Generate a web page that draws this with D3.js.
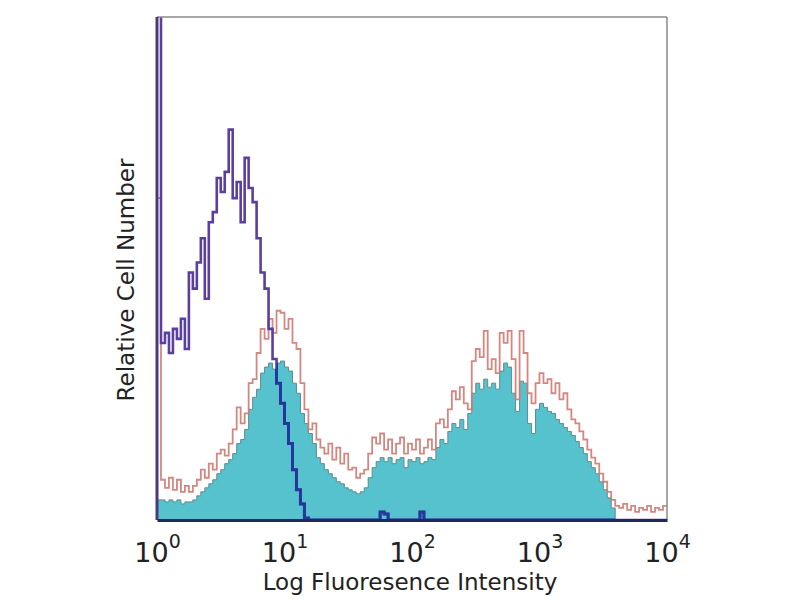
<!DOCTYPE html>
<html>
<head>
<meta charset="UTF-8">
<title>Flow histogram</title>
<script src="https://d3js.org/d3.v7.min.js"></script>
<style>
  body { margin: 0; background: #fff; }
  text { font-family: "DejaVu Sans", sans-serif; fill: #222; }
</style>
</head>
<body>
<svg class="chart"></svg>
<script>
// histogram bins: 32 bins per decade, 10^0 .. 10^4
const binsPerDecade = 32;
const decades = [0, 1, 2, 3, 4];

// isotype control (purple line)
const isotype = [300,88,93,83,95,90,100,85,123,115,128,140,110,148,153,170,163,173,194,160,
  168,148,180,165,158,140,123,115,95,80,68,58,48,38,25,15,8,1,0,0,
  0,0,0,0,0,0,0,0,0,0,0,0,0,0,0,0,4,3,0,0,
  0,0,0,0,0,0,4,0,0,0,0,0,0,0,0,0,0,0,0,0,
  0,0,0,0,0,0,0,0,0,0,0,0,0,0,0,0,0,0,0,0,
  0,0,0,0,0,0,0,0,0,0,0,0,0,0,0,0,0,0,0,0,
  0,0,0,0,0,0,0,0];

// stained sample, outline (red line)
const stainedLine = [160,20,16,21,15,20,14,17,14,17,20,25,21,28,25,33,35,32,38,45,
  56,48,53,68,70,83,95,90,100,93,104,103,95,100,88,85,68,55,45,48,
  40,36,33,38,30,36,28,33,25,26,21,23,25,33,41,38,43,35,40,33,
  38,41,33,38,35,40,33,36,40,35,48,50,46,55,64,60,66,58,55,79,
  85,81,94,75,80,73,93,88,94,80,60,94,83,63,58,68,73,68,70,63,
  68,60,63,55,50,48,44,40,35,31,28,23,19,14,10,7,6,8,5,7,
  4,6,5,7,4,6,5,7];

// stained sample, filled
const stainedFill = [10,10,9,10,9,10,8,9,9,10,12,14,16,18,20,23,25,28,30,33,
  38,40,45,55,61,65,73,76,78,75,78,79,76,74,68,63,53,48,43,38,
  31,28,25,23,21,19,18,16,15,14,13,14,16,21,26,29,31,29,31,28,
  30,31,26,30,29,31,28,29,31,30,36,40,38,44,48,46,50,45,53,63,
  68,65,70,66,68,65,74,78,76,63,54,69,68,48,43,55,58,56,54,53,
  50,48,46,44,42,39,36,33,29,26,23,19,15,11,6,0,0,0,0,0,
  0,0,0,0,0,0,0,0];

const svg = d3.select(".chart").attr("width", 800).attr("height", 600);

const plotLeft = 157, plotRight = 667, plotTop = 17, plotBottom = 520;

const x = d3.scaleLog().domain([1, 1e4]).range([plotLeft, plotRight]);
const y = d3.scaleLinear().domain([0, 250]).range([plotBottom, plotTop]);

function toSteps(values) {
  const pts = values.map((v, i) => ({ e: Math.pow(10, i / binsPerDecade), v: v }));
  pts.push({ e: 1e4, v: values[values.length - 1] });
  return pts;
}

svg.append("clipPath").attr("id", "plot")
  .append("rect").attr("x", plotLeft).attr("y", plotTop)
  .attr("width", plotRight - plotLeft).attr("height", plotBottom - plotTop);

const line = d3.line().curve(d3.curveStepAfter)
  .x(d => x(d.e)).y(d => y(d.v));
const area = d3.area().curve(d3.curveStepAfter)
  .x(d => x(d.e)).y0(y(0)).y1(d => y(d.v));

const plot = svg.append("g").attr("clip-path", "url(#plot)");

// filled stained histogram
const fillPath = area(toSteps(stainedFill));
plot.append("path").attr("d", fillPath)
  .attr("fill", "#55c2cd").attr("stroke", "#5d8d90").attr("stroke-width", 1);

svg.append("clipPath").attr("id", "fillclip")
  .append("path").attr("d", fillPath);

// stained outline
plot.append("path").attr("d", line(toSteps(stainedLine)))
  .attr("fill", "none").attr("stroke", "#cf7a72").attr("stroke-width", 1.8)
  .attr("opacity", 0.9);

// isotype line
plot.append("path").attr("d", line(toSteps(isotype)))
  .attr("fill", "none").attr("stroke", "#5b3f9e").attr("stroke-width", 2.6);
plot.append("g").attr("clip-path", "url(#fillclip)")
  .append("path").attr("d", line(toSteps(isotype)))
  .attr("fill", "none").attr("stroke", "#23389a").attr("stroke-width", 3);

// frame
svg.append("line").attr("x1", plotLeft).attr("x2", plotRight).attr("y1", plotTop).attr("y2", plotTop)
  .attr("stroke", "#8a8a8a").attr("stroke-width", 1.5);
svg.append("line").attr("x1", plotRight).attr("x2", plotRight).attr("y1", plotTop).attr("y2", plotBottom)
  .attr("stroke", "#8a8a8a").attr("stroke-width", 1.5);
svg.append("line").attr("x1", plotLeft).attr("x2", plotLeft).attr("y1", plotTop).attr("y2", plotBottom)
  .attr("stroke", "#4a3a7a").attr("stroke-width", 3);

// x axis
const xAxis = svg.append("g")
  .attr("transform", `translate(0, ${plotBottom})`)
  .call(d3.axisBottom(x)
    .tickValues(decades.map(d => Math.pow(10, d)))
    .tickSize(0).tickPadding(22)
    .tickFormat(""));
xAxis.select(".domain").attr("stroke", "#1d2b5c").attr("stroke-width", 3);

// whole label (10 + exponent) centred on the tick
const tickText = xAxis.selectAll(".tick")
  .append("text")
  .attr("y", 42)
  .attr("text-anchor", "middle")
  .attr("font-size", 27)
  .attr("fill", "#222");
tickText.append("tspan").text("10");
tickText.append("tspan")
  .attr("dy", -14).attr("font-size", 19)
  .text((d, i) => decades[i]);

// axis titles
svg.append("text")
  .attr("x", 410).attr("y", 590)
  .attr("text-anchor", "middle")
  .attr("font-size", 23)
  .text("Log Fluoresence Intensity");

svg.append("text")
  .attr("transform", "translate(134, 280) rotate(-90)")
  .attr("text-anchor", "middle")
  .attr("font-size", 23)
  .text("Relative Cell Number");
</script>
</body>
</html>
